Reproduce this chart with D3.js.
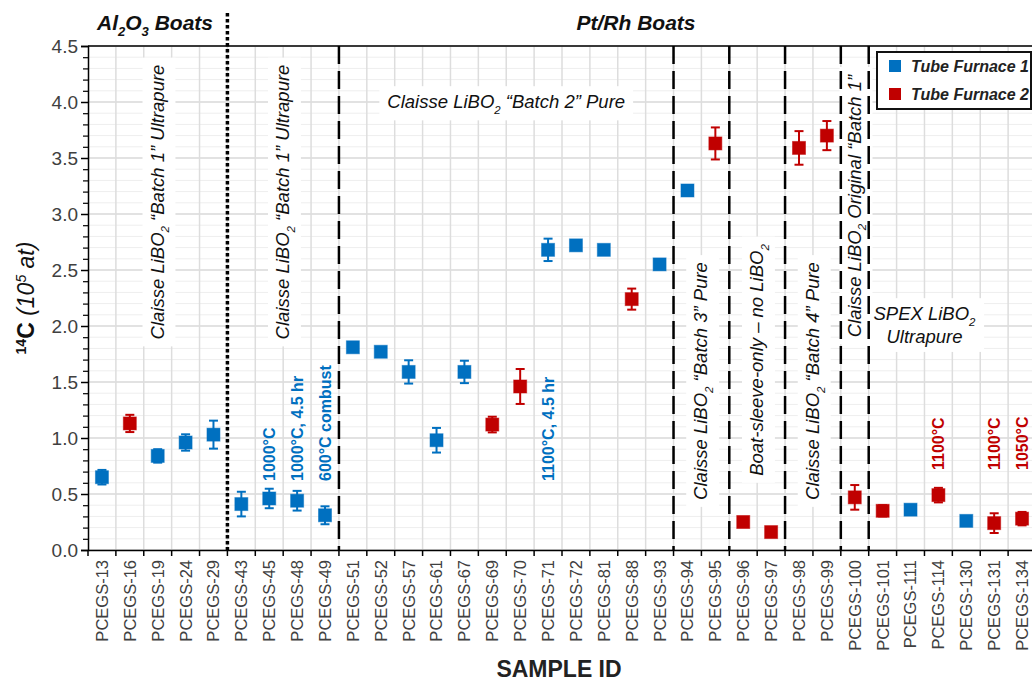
<!DOCTYPE html>
<html>
<head>
<meta charset="utf-8">
<script src="https://cdn.jsdelivr.net/npm/d3@7"></script>
<style>
body { margin: 0; background: #fff; }
svg { font-family: "Liberation Sans", Arial, sans-serif; }
</style>
</head>
<body>
<div id="chart"></div>
<script>
(function(){

//sample ids along the x axis
var samples = ["PCEGS-13","PCEGS-16","PCEGS-19","PCEGS-24","PCEGS-29",
    "PCEGS-43","PCEGS-45","PCEGS-48","PCEGS-49",
    "PCEGS-51","PCEGS-52","PCEGS-57","PCEGS-61","PCEGS-67","PCEGS-69","PCEGS-70",
    "PCEGS-71","PCEGS-72","PCEGS-81","PCEGS-88","PCEGS-93",
    "PCEGS-94","PCEGS-95","PCEGS-96","PCEGS-97","PCEGS-98","PCEGS-99","PCEGS-100",
    "PCEGS-101","PCEGS-111","PCEGS-114","PCEGS-130","PCEGS-131","PCEGS-134"];

//14C (10^5 at) and its 1-sigma error
var c14 = [0.65, 1.13, 0.84, 0.96, 1.03,
    0.41, 0.46, 0.44, 0.31,
    1.81, 1.77, 1.59, 0.98, 1.59, 1.12, 1.46,
    2.68, 2.72, 2.68, 2.24, 2.55,
    3.21, 3.63, 0.25, 0.16, 3.59, 3.70, 0.47,
    0.35, 0.36, 0.49, 0.26, 0.24, 0.28];
var c14Err = [0.065, 0.077, 0.06, 0.073, 0.125,
    0.11, 0.087, 0.088, 0.08,
    0.02, 0.02, 0.104, 0.11, 0.10, 0.07, 0.156,
    0.10, 0.02, 0.02, 0.094, 0,
    0.02, 0.143, 0, 0, 0.15, 0.13, 0.11,
    0.05, 0, 0.065, 0, 0.088, 0.06];

//which tube furnace each sample went through
var furnace = [1, 2, 1, 1, 1,
    1, 1, 1, 1,
    1, 1, 1, 1, 1, 2, 2,
    1, 1, 1, 2, 1,
    1, 2, 2, 2, 2, 2, 2,
    2, 1, 2, 1, 2, 2];

var furnaceNames = ["Tube Furnace 1", "Tube Furnace 2"];
var yTicks = [0, 0.5, 1.0, 1.5, 2.0, 2.5, 3.0, 3.5, 4.0, 4.5];

//group dividers (the sample each line comes after)
var dottedAfter = ["PCEGS-29"];
var dashedAfter = ["PCEGS-49", "PCEGS-93", "PCEGS-95", "PCEGS-97", "PCEGS-99", "PCEGS-100"];

//run condition notes over single samples
var noteSamples = ["PCEGS-45", "PCEGS-48", "PCEGS-49", "PCEGS-71", "PCEGS-114", "PCEGS-131", "PCEGS-134"];
var noteTexts = ["1000°C", "1000°C, 4.5 hr", "600°C combust", "1100°C, 4.5 hr", "1100°C", "1100°C", "1050°C"];

var colors = {1: "#0070c0", 2: "#c00000"};

window.onload = setChart;

function setChart(){

    var width = 1032, height = 681;
    var left = 88, right = 1036, top = 46, bottom = 550;

    var svg = d3.select("#chart")
        .append("svg")
        .attr("width", width)
        .attr("height", height);

    var x = d3.scaleBand()
        .domain(samples)
        .range([left, right]);

    var y = d3.scaleLinear()
        .domain([0, 4.5])
        .range([bottom, top]);

    //x of the boundary after a sample
    function after(name){ return x(name) + x.bandwidth(); }
    function mid(name){ return x(name) + x.bandwidth() / 2; }

    //GRID
    var minor = d3.range(0, 46).map(function(d){ return d / 10; })
        .filter(function(d, i){ return i % 5 != 0; });
    var grid = svg.append("g");
    grid.selectAll(".minor")
        .data(minor)
        .enter()
        .append("line")
        .attr("x1", left).attr("x2", right)
        .attr("y1", y).attr("y2", y)
        .attr("stroke", "#eeeeee")
        .attr("stroke-width", 1);
    grid.selectAll(".major")
        .data(yTicks)
        .enter()
        .append("line")
        .attr("x1", left).attr("x2", right)
        .attr("y1", y).attr("y2", y)
        .attr("stroke", "#d9d9d9")
        .attr("stroke-width", 1.5);
    grid.selectAll(".vert")
        .data(samples.slice(0, -1))
        .enter()
        .append("line")
        .attr("x1", after).attr("x2", after)
        .attr("y1", top).attr("y2", bottom)
        .attr("stroke", "#dddddd")
        .attr("stroke-width", 1.5);

    //text with subscripts: parts starting with "_" are lowered
    function rich(text, parts, size){
        var shift = 0;
        parts.forEach(function(p){
            var sub = p.charAt(0) == "_";
            var t = text.append("tspan").text(sub ? p.slice(1) : p);
            var want = sub ? size * 0.3 : 0;
            t.attr("dy", want - shift);
            if (sub) t.attr("font-size", size * 0.62);
            shift = want;
        });
    }

    //boxed italic group labels
    function label(cx, cy, rotate, lines, size, pad){
        var g = svg.append("g")
            .attr("transform", "translate(" + cx + "," + cy + ")" + (rotate ? " rotate(-90)" : ""));
        var box = g.append("rect").attr("fill", "#fff");
        var text = g.append("text")
            .attr("text-anchor", "middle")
            .attr("font-style", "italic")
            .attr("font-size", size)
            .attr("fill", "#111");
        lines.forEach(function(parts, i){
            var line = text.append("tspan").attr("x", 0).attr("y", i * size * 1.25);
            rich(line, parts, size);
        });
        var b = text.node().getBBox();
        box.attr("x", b.x - pad).attr("y", b.y - pad * 0.6)
            .attr("width", b.width + pad * 2).attr("height", b.height + pad * 1.2);
    }

    var fs = 18.5;
    label(mid("PCEGS-19") + 6, 202, true, [["Claisse LiBO", "_2", " \u201cBatch 1\u201d Ultrapure"]], fs, 7);
    label(after("PCEGS-45") + 6, 202, true, [["Claisse LiBO", "_2", " \u201cBatch 1\u201d Ultrapure"]], fs, 7);
    label(after("PCEGS-69"), 108, false, [["Claisse LiBO", "_2", " \u201cBatch 2\u201d Pure"]], fs, 8);
    label(after("PCEGS-94") + 6, 381, true, [["Claisse LiBO", "_2", " \u201cBatch 3\u201d Pure"]], fs, 7);
    label(after("PCEGS-96") + 6, 360, true, [["Boat-sleeve-only \u2013 no LiBO", "_2"]], fs, 7);
    label(after("PCEGS-98") + 6, 381, true, [["Claisse LiBO", "_2", " \u201cBatch 4\u201d Pure"]], fs, 7);
    label(mid("PCEGS-100") + 6, 206, true, [["Claisse LiBO", "_2", " Original \u201cBatch 1\u201d"]], fs, 7);
    label(after("PCEGS-111"), 320, false, [["SPEX LiBO", "_2"], ["Ultrapure"]], fs, 8);

    //DIVIDERS
    svg.selectAll(".dotted")
        .data(dottedAfter)
        .enter()
        .append("line")
        .attr("x1", after).attr("x2", after)
        .attr("y1", 13).attr("y2", bottom)
        .attr("stroke", "#000")
        .attr("stroke-width", 3.5)
        .attr("stroke-dasharray", "3.5,2.5");
    svg.selectAll(".dashed")
        .data(dashedAfter)
        .enter()
        .append("line")
        .attr("x1", after).attr("x2", after)
        .attr("y1", top).attr("y2", bottom)
        .attr("stroke", "#000")
        .attr("stroke-width", 2.5)
        .attr("stroke-dasharray", "18,7");

    //top frame line
    svg.append("line")
        .attr("x1", left).attr("x2", right)
        .attr("y1", top).attr("y2", top)
        .attr("stroke", "#000")
        .attr("stroke-width", 1.5);

    //Y AXIS
    var yMinor = svg.append("g")
        .attr("transform", "translate(" + left + ",0)")
        .call(d3.axisLeft(y).tickValues(minor).tickSize(5).tickFormat(""));
    yMinor.select(".domain").remove();
    yMinor.selectAll("line").attr("stroke", "#000").attr("stroke-width", 1.2);

    var yAxis = svg.append("g")
        .attr("transform", "translate(" + left + ",0)")
        .call(d3.axisLeft(y).tickValues(yTicks).tickSize(7).tickFormat(d3.format(".1f")));
    yAxis.select(".domain").attr("stroke", "#000").attr("stroke-width", 1.5);
    yAxis.selectAll("line").attr("stroke", "#000").attr("stroke-width", 1.5);
    yAxis.selectAll("text")
        .attr("font-family", "Liberation Sans, Arial, sans-serif")
        .attr("font-size", 19)
        .attr("fill", "#404040")
        .attr("x", -10);

    //X AXIS
    var xAxis = svg.append("g")
        .attr("transform", "translate(0," + bottom + ")")
        .call(d3.axisBottom(x).tickSize(0));
    xAxis.select(".domain").attr("stroke", "#000").attr("stroke-width", 1.5);
    xAxis.selectAll("text")
        .attr("font-family", "Liberation Sans, Arial, sans-serif")
        .attr("font-size", 16.5)
        .attr("fill", "#404040")
        .attr("transform", "rotate(-90)")
        .attr("text-anchor", "end")
        .attr("x", -10)
        .attr("y", 0)
        .attr("dy", "0.36em");
    svg.selectAll(".xtick")
        .data(samples)
        .enter()
        .append("line")
        .attr("x1", after).attr("x2", after)
        .attr("y1", bottom).attr("y2", bottom + 6)
        .attr("stroke", "#000")
        .attr("stroke-width", 1.5);
    svg.append("line")
        .attr("x1", left).attr("x2", left)
        .attr("y1", bottom).attr("y2", bottom + 6)
        .attr("stroke", "#000")
        .attr("stroke-width", 1.5);

    //CONDITION NOTES
    svg.selectAll(".note")
        .data(noteSamples)
        .enter()
        .append("text")
        .attr("transform", function(d){
            var i = samples.indexOf(d);
            var by = furnace[i] == 1 ? 481 : 470;
            return "translate(" + mid(d) + "," + by + ") rotate(-90)";
        })
        .attr("dy", "0.36em")
        .attr("font-weight", "bold")
        .attr("font-size", 16)
        .attr("fill", function(d){ return colors[furnace[samples.indexOf(d)]]; })
        .text(function(d, i){ return noteTexts[i]; });

    //DATA
    var pts = samples.map(function(s, i){
        return {name: s, v: c14[i], e: c14Err[i], f: furnace[i]};
    });
    var marks = svg.append("g").selectAll("g")
        .data(pts)
        .enter()
        .append("g")
        .attr("stroke", function(d){ return colors[d.f]; })
        .attr("fill", function(d){ return colors[d.f]; });
    marks.filter(function(d){ return d.e > 0; })
        .each(function(d){
            var g = d3.select(this);
            var cx = mid(d.name);
            g.append("line")
                .attr("x1", cx).attr("x2", cx)
                .attr("y1", y(d.v - d.e)).attr("y2", y(d.v + d.e))
                .attr("stroke-width", 2);
            [d.v - d.e, d.v + d.e].forEach(function(v){
                g.append("line")
                    .attr("x1", cx - 4.5).attr("x2", cx + 4.5)
                    .attr("y1", y(v)).attr("y2", y(v))
                    .attr("stroke-width", 2);
            });
        });
    marks.append("rect")
        .attr("x", function(d){ return mid(d.name) - 6.5; })
        .attr("y", function(d){ return y(d.v) - 6.5; })
        .attr("width", 13)
        .attr("height", 13)
        .attr("stroke-width", 1)
        .attr("stroke-opacity", 0.5);

    //LEGEND
    var legend = svg.append("g");
    legend.append("rect")
        .attr("x", 877).attr("y", 52)
        .attr("width", 154).attr("height", 57)
        .attr("fill", "#fff")
        .attr("stroke", "#111")
        .attr("stroke-width", 2);
    furnaceNames.forEach(function(n, i){
        legend.append("rect")
            .attr("x", 889).attr("y", 60 + i * 28)
            .attr("width", 12).attr("height", 12)
            .attr("fill", colors[i + 1]);
        legend.append("text")
            .attr("x", 911).attr("y", 72 + i * 28)
            .attr("font-weight", "bold")
            .attr("font-style", "italic")
            .attr("font-size", 16)
            .attr("fill", "#222")
            .text(n);
    });

    //TITLES
    var t1 = svg.append("text")
        .attr("x", 155).attr("y", 30)
        .attr("text-anchor", "middle")
        .attr("font-weight", "bold")
        .attr("font-style", "italic")
        .attr("font-size", 21)
        .attr("fill", "#111");
    rich(t1, ["Al", "_2", "O", "_3", " Boats"], 21);
    svg.append("text")
        .attr("x", 636).attr("y", 30)
        .attr("text-anchor", "middle")
        .attr("font-weight", "bold")
        .attr("font-style", "italic")
        .attr("font-size", 21)
        .attr("fill", "#111")
        .text("Pt/Rh Boats");

    //axis titles
    var yl = svg.append("text")
        .attr("transform", "translate(34,298) rotate(-90)")
        .attr("text-anchor", "middle")
        .attr("font-size", 23)
        .attr("fill", "#111");
    yl.append("tspan").attr("font-weight", "bold").attr("font-size", 14).attr("dy", -8).text("14");
    yl.append("tspan").attr("font-weight", "bold").attr("dy", 8).text("C ");
    yl.append("tspan").attr("font-style", "italic").text("(10");
    yl.append("tspan").attr("font-style", "italic").attr("font-size", 14).attr("dy", -8).text("5");
    yl.append("tspan").attr("font-style", "italic").attr("dy", 8).text(" at)");

    svg.append("text")
        .attr("x", 559).attr("y", 677)
        .attr("text-anchor", "middle")
        .attr("font-weight", "bold")
        .attr("font-size", 23)
        .attr("fill", "#222")
        .text("SAMPLE ID");
}

})();
</script>
</body>
</html>
